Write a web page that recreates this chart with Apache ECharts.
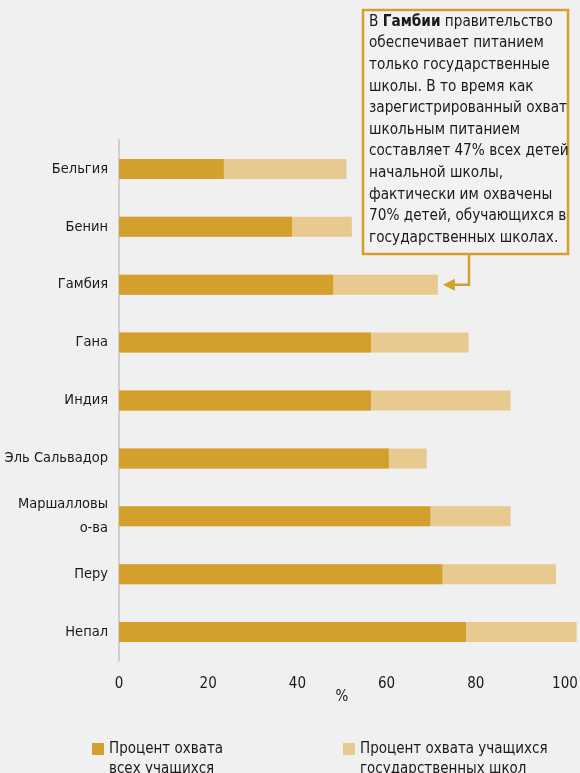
<!DOCTYPE html>
<html>
<head>
<meta charset="utf-8">
<script src="https://cdn.jsdelivr.net/npm/echarts@6/dist/echarts.min.js"></script>
<style>
  html, body { margin: 0; padding: 0; background: #f0f0f0; }
  #chart { width: 580px; height: 773px; }
</style>
</head>
<body>
<div id="chart"></div>
<script>
const countries = ['Бельгия', 'Бенин', 'Гамбия', 'Гана', 'Индия', 'Эль Сальвадор', 'Маршалловы\nо-ва', 'Перу', 'Непал']
// % coverage of all pupils
const allPupils = [23.5, 38.8, 48, 56.5, 56.5, 60.5, 69.8, 72.5, 77.8]
// % coverage of pupils in public schools
const publicPupils = [51, 52.2, 71.5, 78.4, 87.8, 69, 87.8, 98, 102.6]
const xTicks = [0, 20, 40, 60, 80, 100]

const DARK = '#d4a02d'
const LIGHT = '#e8c98f'
const TEXT = '#1a1a1a'
const FONT = "'Liberation Sans Narrow', 'DejaVu Sans Condensed', sans-serif"

const chart = echarts.init(document.getElementById('chart'))

// leading blank line keeps the legend square level with the first text line
const legendText = {
  'Процент охвата всех учащихся': ' \nПроцент охвата\nвсех учащихся',
  'Процент охвата учащихся государственных школ': ' \nПроцент охвата учащихся\nгосударственных школ'
}

const legendBase = {
  orient: 'horizontal',
  padding: 0,
  itemWidth: 12,
  itemHeight: 12,
  icon: 'rect',
  formatter: name => legendText[name],
  textStyle: { fontFamily: FONT, fontSize: 15, color: TEXT, lineHeight: 20 }
}

chart.setOption({
  backgroundColor: '#f0f0f0',
  animation: false,
  grid: { left: 119, right: 15, top: 140, bottom: 112, outerBoundsMode: 'none', containLabel: false },
  legend: [
    Object.assign({}, legendBase, { left: 92, top: 719, data: ['Процент охвата всех учащихся'] }),
    Object.assign({}, legendBase, { left: 343, top: 719, data: ['Процент охвата учащихся государственных школ'] })
  ],
  xAxis: {
    type: 'value',
    min: xTicks[0],
    max: xTicks[xTicks.length - 1],
    interval: 20,
    name: '%',
    nameLocation: 'middle',
    nameGap: 29,
    nameMoveOverlap: false,
    nameTextStyle: { fontFamily: FONT, fontSize: 15, color: TEXT },
    axisLine: { show: false },
    axisTick: { show: false },
    splitLine: { show: false },
    axisLabel: { fontFamily: FONT, fontSize: 15, color: TEXT, margin: 16 }
  },
  yAxis: {
    type: 'category',
    inverse: true,
    data: countries,
    axisLine: { show: true, lineStyle: { color: '#cfcfcf', width: 2 } },
    axisTick: { show: false },
    axisLabel: {
      fontFamily: FONT, fontSize: 14.5, color: TEXT, margin: 11,
      formatter: v => v.split('\n').map(s => '{l|' + s + '}').join('\n'),
      rich: { l: { fontFamily: FONT, fontSize: 14.5, color: TEXT, lineHeight: 24 } }
    }
  },
  series: [
    {
      name: 'Процент охвата учащихся государственных школ',
      type: 'bar',
      data: publicPupils,
      barWidth: 20,
      barGap: '-100%',
      clip: false,
      itemStyle: { color: LIGHT }
    },
    {
      name: 'Процент охвата всех учащихся',
      type: 'bar',
      data: allPupils,
      barWidth: 20,
      barGap: '-100%',
      clip: false,
      itemStyle: { color: DARK }
    }
  ]
})

// annotation box + arrow pointing at the Gambia bar
const gi = countries.indexOf('Гамбия')
const tip = chart.convertToPixel({ gridIndex: 0 }, [publicPupils[gi], gi])
const boxX = 363, boxY = 10, boxW = 205, boxH = 244
const stemX = 469
const arrowX = tip[0] + 5

chart.setOption({
  graphic: [
    {
      type: 'rect',
      shape: { x: boxX, y: boxY, width: boxW, height: boxH },
      style: { fill: '#f2f2f2', stroke: DARK, lineWidth: 2.5 },
      z: 10
    },
    {
      type: 'text',
      x: boxX + 6,
      y: boxY + 1,
      z: 11,
      style: {
        text: '{n|В }{b|Гамбии}{n| правительство}\n{n|обеспечивает питанием}\n{n|только государственные}\n{n|школы. В то время как}\n{n|зарегистрированный охват}\n{n|школьным питанием}\n{n|составляет 47% всех детей}\n{n|начальной школы,}\n{n|фактически им охвачены}\n{n|70% детей, обучающихся в}\n{n|государственных школах.}',
        rich: {
          n: { fontFamily: FONT, fontSize: 15.2, lineHeight: 21.6, fill: TEXT },
          b: { fontFamily: FONT, fontSize: 15.2, lineHeight: 21.6, fill: TEXT, fontWeight: 'bold' }
        },
        verticalAlign: 'top'
      }
    },
    {
      type: 'polyline',
      z: 10,
      shape: { points: [[stemX, boxY + boxH], [stemX, tip[1]], [arrowX + 10, tip[1]]] },
      style: { stroke: DARK, lineWidth: 2.5, fill: null }
    },
    {
      type: 'polygon',
      z: 10,
      shape: { points: [[arrowX, tip[1]], [arrowX + 12, tip[1] - 6], [arrowX + 12, tip[1] + 6]] },
      style: { fill: DARK }
    }
  ]
})

window.addEventListener('resize', () => chart.resize())
</script>
</body>
</html>
